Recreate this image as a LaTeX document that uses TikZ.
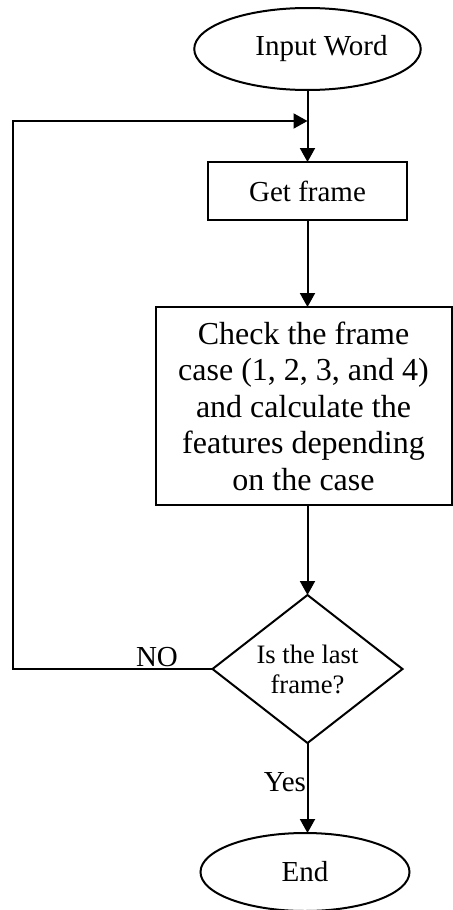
\documentclass[tikz,border=0pt]{standalone}
\usepackage{fontspec}
\setmainfont{Liberation Serif}
\usetikzlibrary{shapes.geometric,arrows.meta}
\begin{document}
\begin{tikzpicture}[
  x=0.5pt, y=0.5pt,
  line width=1pt,
  every node/.style={inner sep=0pt, outer sep=0pt},
  term/.style={draw, ellipse, minimum width=104.5pt, font=\fontsize{14.5}{16}\selectfont},
  proc/.style={draw, rectangle, align=center},
  decide/.style={draw, diamond, aspect=1.28, minimum width=95pt, minimum height=74pt,
    align=center, font=\fontsize{13.3}{15}\selectfont},
  lbl/.style={font=\fontsize{14.5}{16}\selectfont},
  flow/.style={-{Triangle[length=7pt, width=7.5pt]}},
]
\useasboundingbox (0,0) rectangle (453,-910);

% ── steps ──
\node[term, minimum height=41pt] (input) at (307.5,-49) {\hspace*{14pt}Input Word};
\node[proc, lbl, minimum width=99.5pt, minimum height=29pt] (getframe) at (307.5,-191) {Get frame};
\node[proc, minimum width=148pt, minimum height=99pt, font=\fontsize{16}{18.25}\selectfont] (check) at (303.5,-406)
  {Check the frame\\case (1, 2, 3, and 4)\\and calculate the\\features depending\\on the case};
\node[decide] (lastframe) at (307.5,-669) {Is the last\\frame?};
\node[term, minimum height=39pt] (finish) at (305,-872) {End};

% ── loop points ──
\coordinate (join) at (307.5,-121);
\coordinate (loopleft) at (13,-121);

% ── connectors ──
\draw[flow] (input) -- (getframe);
\draw[flow] (getframe.south) -- (getframe.south |- check.north);
\draw[flow] (lastframe.north |- check.south) -- (lastframe.north);
\draw[flow] (lastframe.south) -- (lastframe.south |- finish.north);
\draw[flow] (lastframe.west) -| (loopleft) -- (join);

% ── labels ──
\node[lbl, anchor=base] (nolbl) at (157,-666) {NO};
\node[lbl, anchor=base east] (yeslbl) at (306,-791) {Yes};

\end{tikzpicture}
\end{document}
